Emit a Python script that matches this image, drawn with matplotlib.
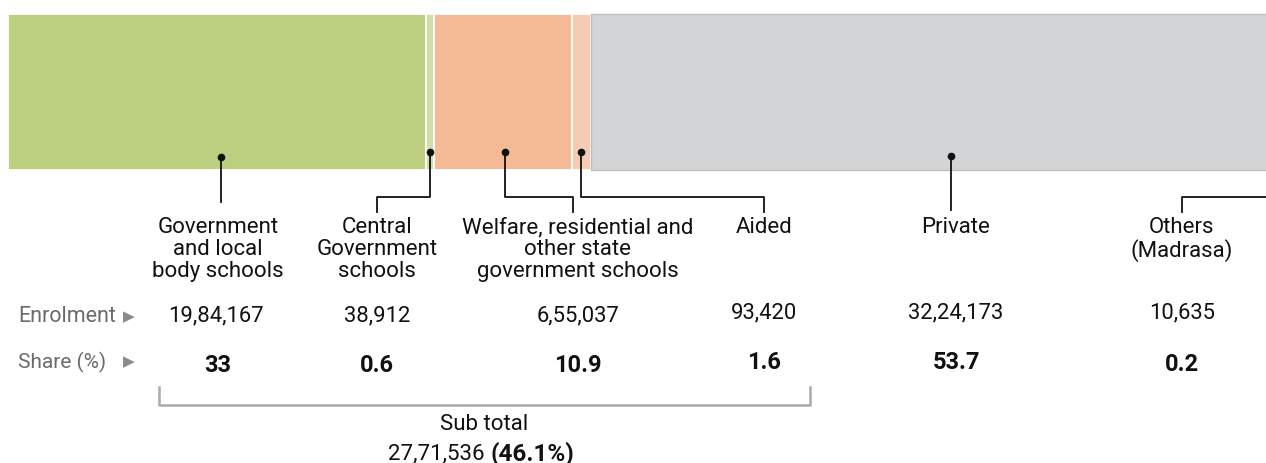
import matplotlib.pyplot as plt
import numpy as np

# data
categories = ['Government\nand local\nbody schools', 'Central\nGovernment\nschools',
              'Welfare, residential and\nother state\ngovernment schools', 'Aided',
              'Private', 'Others\n(Madrasa)']
enrolment = [1984167, 38912, 655037, 93420, 3224173, 10635]
enrol_labels = ['19,84,167', '38,912', '6,55,037', '93,420', '32,24,173', '10,635']
share_labels = ['33', '0.6', '10.9', '1.6', '53.7', '0.2']
subtotal_label = '27,71,536'
subtotal_share = '(46.1%)'

colors = ['#bccf80', '#d0dea7', '#f4b995', '#f6cbb4', '#d3d4d6', '#a9a9a9']
edges = ['white', 'white', 'white', 'white', '#bdbdbf', '#bdbdbf']

# layout (pixel coordinates, figure is 1266x464)
W, H = 1266, 464
bar_x0, bar_w = 8, 1264
bar_top, bar_h = 15, 156
col_x = [218, 377, 578, 764, 956, 1182]
dot_frac = [0.51, 0.5, 0.52, 0.5, 0.53, None]

plt.rcParams['font.family'] = ['Roboto', 'DejaVu Sans']
fig = plt.figure(figsize=(W / 100, H / 100), dpi=100)
ax = fig.add_axes([0, 0, 1, 1])
ax.set_xlim(0, W)
ax.set_ylim(H, 0)
ax.axis('off')

# stacked bar, scaled to the pixel frame
vals = np.array(enrolment, dtype=float)
scale = bar_w / vals.sum()
lefts = bar_x0 + np.concatenate([[0], np.cumsum(vals)[:-1]]) * scale
widths = vals * scale
lws = [1.3, 1.3, 1.3, 1.3, 1.0, 1.0]
ax.barh(bar_top + bar_h / 2, widths, left=lefts, height=bar_h, color=colors,
        edgecolor=edges, linewidth=lws, align='center')

# leader lines
lc = '#111111'
elbow_y, text_top = 198, 213
dot_y = [158, 153, 153, 153, 157]
for i in range(5):
    dx = lefts[i] + widths[i] * dot_frac[i]
    dy = dot_y[i]
    ax.plot(dx, dy, 'o', color=lc, ms=4.5, zorder=5)
    if i == 0:
        ax.plot([dx, dx], [dy, 203], color=lc, lw=1.3)
    elif i == 4:
        ax.plot([dx, dx], [dy, 211], color=lc, lw=1.3)
    else:
        ex = 573 if i == 2 else col_x[i]
        ax.plot([dx, dx, ex, ex], [dy, elbow_y, elbow_y, text_top], color=lc, lw=1.3)
# others: leader enters from right edge
ax.plot([W, col_x[5], col_x[5]], [elbow_y, elbow_y, text_top], color=lc, lw=1.3)

# category labels
for x, lab in zip(col_x, categories):
    ax.text(x, 217, lab, ha='center', va='top', fontsize=16, color='#111111',
            linespacing=1.06)

# rows
ax.text(18, 317, 'Enrolment', ha='left', va='center', fontsize=15.5, color='#6b6b6b')
ax.text(18, 362, 'Share (%)', ha='left', va='center', fontsize=15, color='#6b6b6b')
for y in (317, 362):
    ax.text(129, y, '▶', ha='center', va='center', fontsize=11, color='#8a8a8a',
            family='DejaVu Sans')
enrol_x = [216, 377, 578, 764, 956, 1182]
enrol_y = [316, 316, 316, 313, 313, 313]
for x, y, v in zip(enrol_x, enrol_y, enrol_labels):
    ax.text(x, y, v, ha='center', va='center', fontsize=15.8, color='#111111')
share_y = [366, 366, 366, 363, 363, 365]
for x, y, s in zip(col_x, share_y, share_labels):
    ax.text(x, y, s, ha='center', va='center', fontsize=17, fontweight='bold',
            color='#111111')

# subtotal bracket
bc = '#aaaaaa'
ax.plot([159, 159, 810, 810], [388, 406, 406, 388], color=bc, lw=1.8)
ax.text(484, 425, 'Sub total', ha='center', va='center', fontsize=16, color='#111111')
ax.text(490, 454, subtotal_label + ' ', ha='right', va='center', fontsize=16,
        color='#111111')
ax.text(490, 454, subtotal_share, ha='left', va='center', fontsize=17.5,
        fontweight='bold', color='#111111')

fig.savefig('out.png', dpi=100)
